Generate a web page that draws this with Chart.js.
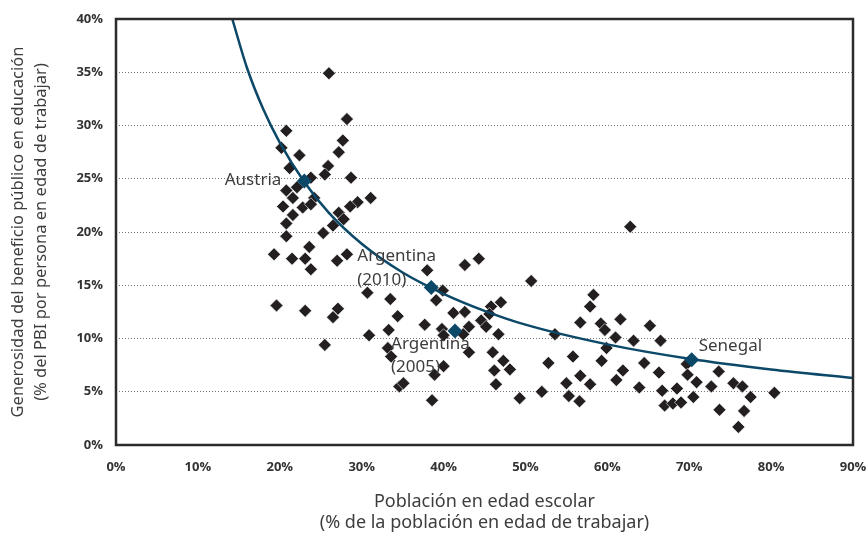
<!DOCTYPE html>
<html>
<head>
<meta charset="utf-8">
<script src="https://cdn.jsdelivr.net/npm/chart.js@4.4.1/dist/chart.umd.min.js"></script>
<style>
  html, body { margin: 0; padding: 0; background: #fff; }
  #wrap { width: 866px; height: 534px; }
</style>
</head>
<body>
<div id="wrap"><canvas id="scatterChart" width="866" height="534"></canvas></div>
<script>
// school-age population (% of working-age pop) and public education generosity (% GDP per worker)
const schoolAgeShare = [
  26.0, 28.2, 20.8, 27.7, 20.2, 27.2, 22.4, 25.9, 21.2, 25.5, 28.7, 23.8, 22.1, 20.8, 21.6, 24.2,
  31.1, 20.4, 22.8, 23.8, 29.5, 28.6, 21.6, 27.2, 27.8, 20.8, 26.5, 25.3, 20.8, 23.6, 19.3, 21.5,
  23.1, 23.8, 27.0, 28.2, 30.7, 33.5, 19.6, 23.1, 27.1, 26.5, 30.9, 33.3, 34.4, 25.5, 33.2, 33.6,
  34.6, 35.1,
  38.0, 42.6, 44.3, 50.7, 39.9, 39.1, 37.7, 39.8, 40.0, 41.2, 42.6, 43.1, 42.4, 44.6, 45.2, 45.8,
  47.0, 45.6, 46.7, 53.6, 43.1, 40.0, 38.9, 46.0, 47.3, 48.1, 46.2, 46.4, 52.8, 38.6, 49.3, 52.0,
  62.8, 58.3, 57.9, 56.7, 59.2, 59.7, 61.6, 65.2, 61.0, 63.2, 66.5, 59.9, 55.8, 59.3, 64.5, 69.7,
  61.9, 66.3, 69.8, 73.6, 56.7, 61.1, 70.9, 55.0, 57.9, 72.7, 75.4, 76.5, 55.3, 56.6, 63.9, 66.7,
  68.5, 70.5, 67.0, 68.0, 69.0, 77.5, 80.4, 73.7, 76.7, 76.0
];
const generosity = [
  34.9, 30.6, 29.5, 28.6, 27.9, 27.5, 27.2, 26.2, 26.0, 25.4, 25.1, 25.1, 24.2, 23.9, 23.2, 23.2,
  23.2, 22.4, 22.3, 22.6, 22.8, 22.4, 21.6, 21.8, 21.2, 20.8, 20.6, 19.9, 19.6, 18.6, 17.9, 17.5,
  17.5, 16.5, 17.3, 17.9, 14.3, 13.7, 13.1, 12.6, 12.8, 12.0, 10.3, 10.8, 12.1, 9.4, 9.1, 8.3,
  5.5, 5.8,
  16.4, 16.9, 17.5, 15.4, 14.5, 13.6, 11.3, 10.9, 10.3, 12.4, 12.5, 11.1, 10.4, 11.7, 11.1, 13.0,
  13.4, 12.3, 10.4, 10.4, 8.7, 7.4, 6.6, 8.7, 7.9, 7.1, 7.0, 5.7, 7.7, 4.2, 4.4, 5.0,
  20.5, 14.1, 13.0, 11.5, 11.4, 10.8, 11.8, 11.2, 10.1, 9.8, 9.8, 9.1, 8.3, 7.9, 7.7, 7.6,
  7.0, 6.8, 6.6, 6.9, 6.5, 6.1, 5.9, 5.8, 5.7, 5.5, 5.8, 5.5, 4.6, 4.1, 5.4, 5.1,
  5.3, 4.5, 3.7, 3.9, 4.0, 4.5, 4.9, 3.3, 3.2, 1.7
];

// highlighted countries
const highlightNames = ['Austria', 'Argentina\n(2010)', 'Argentina\n(2005)', 'Senegal'];
const highlightX = [23.0, 38.5, 41.4, 70.3];
const highlightY = [24.8, 14.8, 10.7, 8.0];

// fitted curve
const curveX = [14.2, 16, 18, 20, 23, 26, 30, 35, 40, 45, 50, 60, 70, 80, 90];
const curveY = [40.0, 35.4, 31.5, 28.4, 24.7, 21.8, 18.9, 16.2, 14.2, 12.6, 11.3, 9.45, 8.1, 7.1, 6.3];

const xTickValues = [0, 10, 20, 30, 40, 50, 60, 70, 80, 90];
const yTickValues = [0, 5, 10, 15, 20, 25, 30, 35, 40];

const xTitle = ['Población en edad escolar', '(% de la población en edad de trabajar)'];
const yTitle = ['Generosidad del beneficio público en educación', '(% del PBI por persona en edad de trabajar)'];

const black = '#231f20';
const teal = '#0c4868';

// frame around plot + country labels
const extrasPlugin = {
  id: 'extras',
  afterDatasetsDraw(chart) {
    const ctx = chart.ctx;
    const a = chart.chartArea;
    ctx.save();
    ctx.strokeStyle = '#2b2b2b';
    ctx.lineWidth = 2.5;
    ctx.strokeRect(a.left, a.top, a.right - a.left, a.bottom - a.top);

    const meta = chart.getDatasetMeta(2);
    // offsets of each label from its point
    const offs = [[-23, -1, 'right'], [-74, -31, 'left'], [-64, 13, 'left'], [7, -14, 'left']];
    ctx.font = '17px "Noto Sans"';
    ctx.fillStyle = '#3d3d3d';
    ctx.textBaseline = 'middle';
    meta.data.forEach((pt, i) => {
      const lines = highlightNames[i].split('\n');
      ctx.textAlign = offs[i][2];
      lines.forEach((ln, j) => {
        ctx.fillText(ln, pt.x + offs[i][0], pt.y + offs[i][1] + j * 23.5);
      });
    });
    ctx.restore();
  }
};

const ctx = document.getElementById('scatterChart').getContext('2d');
new Chart(ctx, {
  type: 'scatter',
  data: {
    datasets: [
      {
        label: 'Países',
        data: schoolAgeShare.map((x, i) => ({ x: x, y: generosity[i] })),
        pointStyle: 'rectRot',
        pointRadius: 6.5,
        backgroundColor: black,
        borderColor: '#ffffff',
        borderWidth: 0.6,
        order: 3
      },
      {
        label: 'Tendencia',
        type: 'line',
        data: curveX.map((x, i) => ({ x: x, y: curveY[i] })),
        borderColor: teal,
        borderWidth: 2.5,
        pointRadius: 0,
        fill: false,
        cubicInterpolationMode: 'monotone',
        order: 2
      },
      {
        label: 'Destacados',
        data: highlightX.map((x, i) => ({ x: x, y: highlightY[i] })),
        pointStyle: 'rectRot',
        pointRadius: 7.5,
        backgroundColor: teal,
        borderWidth: 0,
        order: 1
      }
    ]
  },
  options: {
    responsive: false,
    animation: false,
    layout: { padding: { top: 19, right: 13, left: 0, bottom: 0 } },
    plugins: {
      legend: { display: false },
      tooltip: { enabled: false }
    },
    scales: {
      x: {
        type: 'linear',
        min: 0,
        max: 90,
        afterBuildTicks: (scale) => { scale.ticks = xTickValues.map(v => ({ value: v })); },
        afterFit: (scale) => {
          scale.height = 89;
          scale.paddingLeft = 0;
          scale.paddingRight = 0;
        },
        grid: { display: false },
        border: { display: false },
        ticks: {
          padding: 6,
          color: '#333',
          font: { family: '"Open Sans"', size: 13, weight: 'bold' },
          callback: (v) => v + '%'
        },
        title: {
          display: true,
          text: xTitle,
          color: '#3d3d3d',
          font: { family: '"Noto Sans"', size: 18, lineHeight: 1.2 },
          padding: { top: 0, bottom: 0 }
        }
      },
      y: {
        type: 'linear',
        min: 0,
        max: 40,
        afterBuildTicks: (scale) => { scale.ticks = yTickValues.map(v => ({ value: v })); },
        afterFit: (scale) => {
          scale.width = 116;
          scale.paddingTop = 0;
          scale.paddingBottom = 0;
        },
        grid: {
          color: '#777',
          lineWidth: 1,
          drawTicks: false
        },
        border: { display: false, dash: [1, 2] },
        ticks: {
          padding: 13,
          color: '#333',
          font: { family: '"Open Sans"', size: 13, weight: 'bold' },
          callback: (v) => v + '%'
        },
        title: {
          display: true,
          text: yTitle,
          color: '#3d3d3d',
          font: { family: '"Noto Sans"', size: 16.5, lineHeight: 1.38 },
          padding: { top: 7, bottom: 0 }
        }
      }
    }
  },
  plugins: [extrasPlugin]
});
</script>
</body>
</html>
